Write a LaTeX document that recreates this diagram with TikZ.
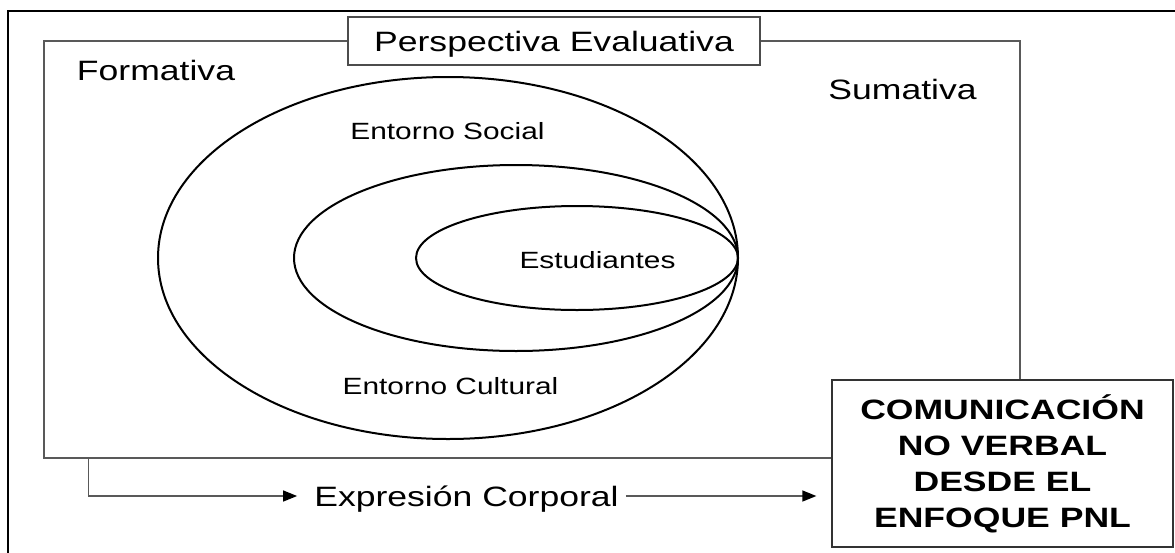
\documentclass[tikz,border=0pt]{standalone}
\usepackage{fontspec}
\setmainfont{Liberation Sans}[FakeStretch=1.27]
\usetikzlibrary{calc,arrows.meta}

\begin{document}
\begin{tikzpicture}[x=1pt,y=-1pt,
    etiqueta/.style={font=\fontsize{28}{34}\selectfont, inner sep=0pt},
    anillotexto/.style={font=\fontsize{23.5}{28}\selectfont, inner sep=0pt},
    anillo/.style={draw=black, line width=2pt},
    flecha/.style={draw=black!65, line width=1.3pt,
        -{Triangle[length=14pt,width=11pt,color=black]}}]
    \useasboundingbox (0,0) rectangle (1175,552);
    \clip (0,0) rectangle (1175,552);
    \draw [line width=1.3pt] (8,11) rectangle (1200,580);% outer frame, runs off the page

    \node (marco) [draw=black!65, line width=1.5pt, inner sep=0pt,
        minimum width=976pt, minimum height=417pt] at (532,249.5) {};

    % three rings, all touching at the right
    \draw [anillo] (448,258) ellipse [x radius=290pt, y radius=181pt];
    \draw [anillo] (516,258) ellipse [x radius=222pt, y radius=93pt];
    \draw [anillo] (577,258) ellipse [x radius=161pt, y radius=52pt];

    \node (formativa) [etiqueta, anchor=base] at (156,80) {Formativa};
    \node (sumativa)  [etiqueta, anchor=base] at (902.5,99) {Sumativa};
    \node (social)    [anillotexto, anchor=base] at (447.5,139) {Entorno Social};
    \node (estudiantes) [anillotexto, anchor=base] at (597.5,268) {Estudiantes};
    \node (cultural)  [anillotexto, anchor=base] at (450.5,394) {Entorno Cultural};

    % title sits on the top edge of the frame
    \node (perspectiva) [etiqueta, draw=black!70, line width=1.3pt, fill=white,
        minimum width=412pt, minimum height=48pt, text height=20pt, text depth=0pt]
        at (554,41) {Perspectiva Evaluativa};

    \node (pnl) [draw=black!80, line width=1.3pt, fill=white, align=center,
        minimum width=341pt, minimum height=167pt, inner sep=0pt,
        font=\fontsize{28}{36}\selectfont\bfseries] at (1002.5,463.5)
        {COMUNICACIÓN\\NO VERBAL\\DESDE EL\\ENFOQUE PNL};

    \node (expresion) [etiqueta, text height=20pt, text depth=0pt] at (466.5,496)
        {Expresión Corporal};
    \coordinate (salida) at ($(marco.south west)+(45,0)$);
    \draw [flecha, shorten >=17pt] (salida) |- (expresion.west);
    \draw [flecha, shorten <=7pt, shorten >=15pt] (expresion.east)
        -- (expresion.east -| pnl.west);
\end{tikzpicture}
\end{document}
